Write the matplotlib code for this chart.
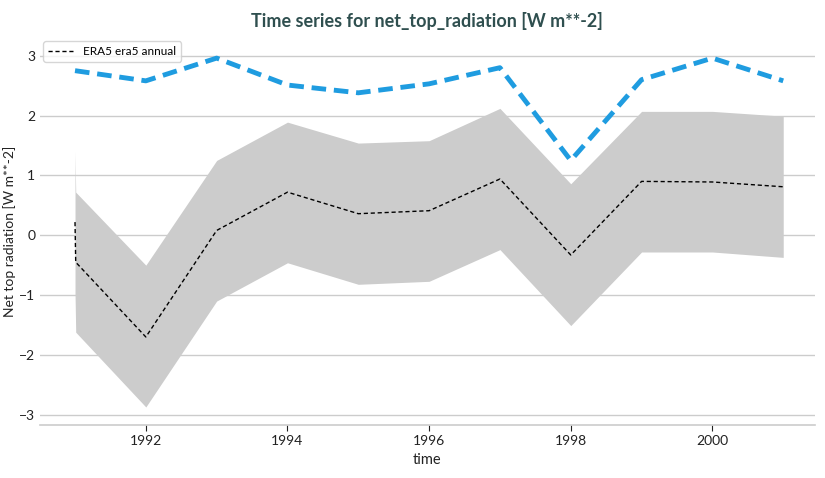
import numpy as np
import matplotlib.pyplot as plt

plt.rcParams['font.family'] = ['Lato', 'DejaVu Sans']

# time axis (first year has two samples)
years = [1991.0, 1991.01, 1992, 1993, 1994, 1995, 1996, 1997, 1998, 1999, 2000, 2001]
model_mean = [0.22, -0.45, -1.70, 0.08, 0.72, 0.36, 0.41, 0.94, -0.33, 0.90, 0.89, 0.81]
model_upper = [1.40, 0.72, -0.50, 1.25, 1.89, 1.54, 1.58, 2.12, 0.86, 2.07, 2.07, 1.99]
model_lower = [-0.96, -1.62, -2.87, -1.10, -0.46, -0.82, -0.77, -0.24, -1.51, -0.28, -0.28, -0.37]

era5_years = [1991, 1992, 1993, 1994, 1995, 1996, 1997, 1998, 1999, 2000, 2001]
era5_values = [2.75, 2.58, 2.96, 2.51, 2.38, 2.53, 2.80, 1.25, 2.60, 2.96, 2.58]

fig = plt.figure(figsize=(8.25, 4.78), dpi=100)
ax = fig.add_axes([0.048, 0.111, 0.94, 0.81])

ax.fill_between(years, model_lower, model_upper, color='#cccccc', lw=0, zorder=2)
ax.plot(years, model_mean, color='black', ls='--', lw=1, dashes=(3, 2),
        label='ERA5 era5 annual', zorder=3)
ax.plot(era5_years, era5_values, color='#1f9ce0', lw=3.5, dashes=(3, 1.6), zorder=3)

ax.set_xlim(1990.5, 2001.45)
ax.set_ylim(-3.17, 3.3)
ax.set_yticks([-3, -2, -1, 0, 1, 2, 3])
ax.set_xticks([1992, 1994, 1996, 1998, 2000])
ax.yaxis.grid(True, color='#cccccc', lw=1)
ax.set_axisbelow(True)
for s in ['top', 'right', 'left']:
    ax.spines[s].set_visible(False)
ax.spines['bottom'].set_color('#cccccc')
ax.spines['bottom'].set_linewidth(1.2)
ax.tick_params(axis='y', length=0, labelsize=10, pad=3, colors='#222222')
ax.tick_params(axis='x', length=4, width=0.8, color='#222222', labelsize=10, colors='#222222')

ax.set_xlabel('time', fontsize=10.5, color='#222222')
ax.set_ylabel('Net top radiation [W m**-2]', fontsize=10, color='#222222')
ax.yaxis.set_label_coords(-0.031, 0.5)
ax.set_title('Time series for net_top_radiation [W m**-2]', fontsize=13,
             fontweight='bold', color='#2f4f4f', pad=8)

leg = ax.legend(loc='upper left', fontsize=8.5, frameon=True, borderaxespad=0.3,
                handlelength=2.2, fancybox=True)
leg.get_frame().set_edgecolor('#cccccc')

fig.savefig('out.png', dpi=100)
